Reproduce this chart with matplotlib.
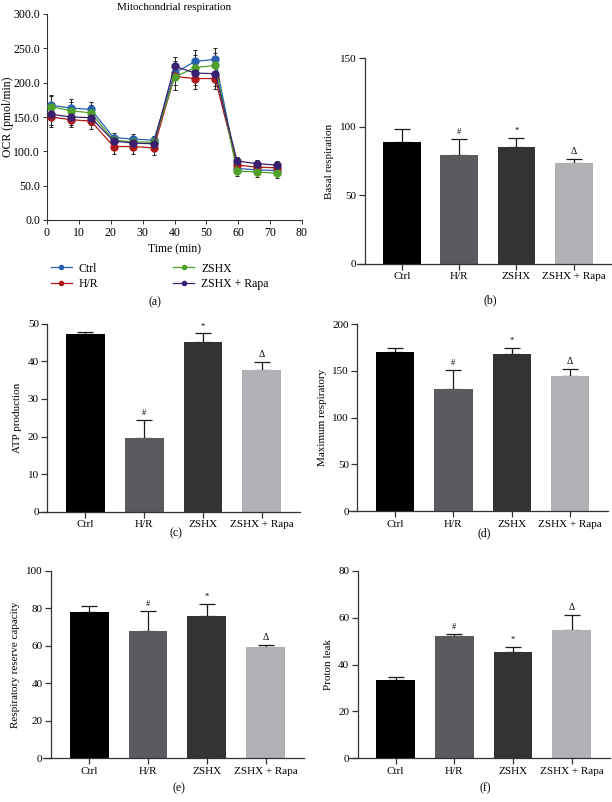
import numpy as np
import matplotlib
matplotlib.use("Agg")
import matplotlib.pyplot as plt

plt.rcParams['font.family'] = ['Liberation Serif', 'DejaVu Serif']
plt.rcParams['font.size'] = 8

# Дані: панель (a) - дихання мітохондрій
time_min = [1.3, 7.6, 13.8, 20.9, 27.0, 33.5, 40.0, 46.5, 52.8, 59.6, 65.9, 72.2]
ocr_ctrl = [167, 163, 161, 120, 118, 116, 214, 231, 234, 75, 73, 72]
ocr_hr = [150, 146, 144, 107, 107, 105, 209, 206, 206, 80, 77, 76]
ocr_zshx = [165, 159, 156, 116, 114, 113, 208, 222, 225, 71, 70, 68]
ocr_rapa = [154, 150, 149, 115, 112, 111, 224, 214, 213, 86, 82, 80]
err_ctrl = [15, 13, 11, 7, 7, 7, 18, 17, 17, 6, 5, 5]
err_hr = [15, 10, 12, 11, 11, 10, 20, 15, 15, 8, 7, 6]
err_zshx = [15, 13, 11, 8, 8, 8, 18, 18, 18, 7, 7, 7]
err_rapa = [15, 12, 11, 8, 9, 9, 14, 17, 18, 6, 6, 6]
series_names = ["Ctrl", "H/R", "ZSHX", "ZSHX + Rapa"]

# Дані: стовпчикові панелі (b)-(f)
groups = ["Ctrl", "H/R", "ZSHX", "ZSHX + Rapa"]
marks = ["", "#", "*", "Δ"]
basal = [89.0, 79.3, 85.1, 73.9]
basal_err = [9.2, 11.9, 6.5, 2.7]
atp = [47.3, 19.7, 45.3, 37.7]
atp_err = [0.6, 4.7, 2.2, 2.1]
maxresp = [169.8, 131.0, 167.6, 144.5]
maxresp_err = [4.9, 19.9, 7.1, 7.5]
reserve = [78.2, 67.7, 76.0, 59.1]
reserve_err = [3.1, 10.8, 6.4, 1.5]
leak = [33.2, 52.0, 45.2, 54.6]
leak_err = [1.6, 0.9, 2.4, 6.4]

W, H = 612, 802
fig = plt.figure(figsize=(W / 100, H / 100), dpi=100)


def px_axes(x0, x1, ytop, ybot):
    return fig.add_axes([x0 / W, 1 - ybot / H, (x1 - x0) / W, (ybot - ytop) / H])


axis_col = "#333333"

# ---------- (a) ----------
ax = px_axes(47, 302, 14, 220)
colors = ["#2a62b0", "#b01818", "#4fa02a", "#3a2070"]
for y, e, c, name in zip([ocr_ctrl, ocr_hr, ocr_zshx, ocr_rapa],
                         [err_ctrl, err_hr, err_zshx, err_rapa], colors, series_names):
    ax.errorbar(time_min, y, yerr=e, fmt='none', ecolor='#222222', elinewidth=0.7,
                capsize=1.5, capthick=0.7, zorder=2)
    ax.plot(time_min, y, '-o', color=c, lw=0.9, ms=5, label=name, zorder=3)
ax.set_xlim(0, 80)
ax.set_ylim(0, 300)
ax.set_xticks(np.arange(0, 81, 10))
ax.set_yticks(np.arange(0, 301, 50))
ax.set_yticklabels([f"{v:.1f}" for v in np.arange(0, 301, 50)])
ax.spines['top'].set_visible(False)
ax.spines['right'].set_visible(False)
for s in ['left', 'bottom']:
    ax.spines[s].set_color(axis_col)
    ax.spines[s].set_linewidth(0.8)
ax.tick_params(length=3, width=0.7, color=axis_col, labelsize=8.5, pad=2)
ax.set_xlabel("Time (min)", fontsize=8.5, labelpad=3)
ax.set_ylabel("OCR (pmol/min)", fontsize=8.5, labelpad=0.5)
ax.yaxis.set_label_coords(-33 / 255, 0.5)
ax.set_title("Mitochondrial respiration", fontsize=8, pad=3)
handles, labels = ax.get_legend_handles_labels()
fig.legend(handles, labels, ncol=2, loc='upper left', bbox_to_anchor=(40 / W, 1 - 252 / H),
           frameon=False, fontsize=8.5, handlelength=1.8, markerscale=0.6,
           columnspacing=6.3, labelspacing=0.3, handletextpad=0.6)
fig.text(155 / W, 1 - 302 / H, "(a)", ha='center', va='center', fontsize=8.5)


# ---------- стовпчикові панелі ----------
bar_colors = ["#000000", "#5a5b5f", "#323335", "#b0b1b5"]


def bar_panel(x0, x1, ytop, ybot, vals, errs, ymax, step, ylabel, tag, tag_y):
    ax = px_axes(x0, x1, ytop, ybot)
    xs = np.arange(len(groups))
    ax.bar(xs, vals, width=0.66, color=bar_colors, zorder=2)
    ax.errorbar(xs, vals, yerr=[np.zeros(len(errs)), errs], fmt='none',
                ecolor='#1a1a1a', elinewidth=0.9, capsize=6, capthick=0.9, zorder=1)
    for x, v, e, m in zip(xs, vals, errs, marks):
        if m:
            fs = 7 if m == "Δ" else 6
            ax.text(x, v + e + ymax * 0.015, m, ha='center', va='bottom', fontsize=fs)
    ax.set_xlim(-0.79, 3.65)
    ax.set_ylim(0, ymax)
    ax.set_xticks(xs)
    ax.set_xticklabels(groups)
    ax.set_yticks(np.arange(0, ymax + 1, step))
    ax.spines['top'].set_visible(False)
    ax.spines['right'].set_visible(False)
    ax.spines['left'].set_position(('data', -0.65))
    for s in ['left', 'bottom']:
        ax.spines[s].set_color(axis_col)
        ax.spines[s].set_linewidth(0.9)
    ax.tick_params(length=4, width=0.9, color=axis_col, labelsize=8, pad=2)
    ax.set_ylabel(ylabel, fontsize=8, labelpad=4)
    fig.text(((x0 + x1) / 2 + 6) / W, 1 - tag_y / H, tag, ha='center', va='center', fontsize=8.5)
    return ax


bar_panel(356.7, 611, 58.3, 264, basal, basal_err, 150, 50, "Basal respiration", "(b)", 300)
bar_panel(39, 300, 324, 511.5, atp, atp_err, 50, 10, "ATP production", "(c)", 533)
bar_panel(349, 608, 324, 511.3, maxresp, maxresp_err, 200, 50, "Maximum respiratory", "(d)", 533)
bar_panel(42.7, 304, 570.7, 758.3, reserve, reserve_err, 100, 20, "Respiratory reserve capacity", "(e)", 788)
bar_panel(349.3, 610, 570.7, 758.3, leak, leak_err, 80, 20, "Proton leak", "(f)", 788)

fig.savefig("out.png", dpi=100)
